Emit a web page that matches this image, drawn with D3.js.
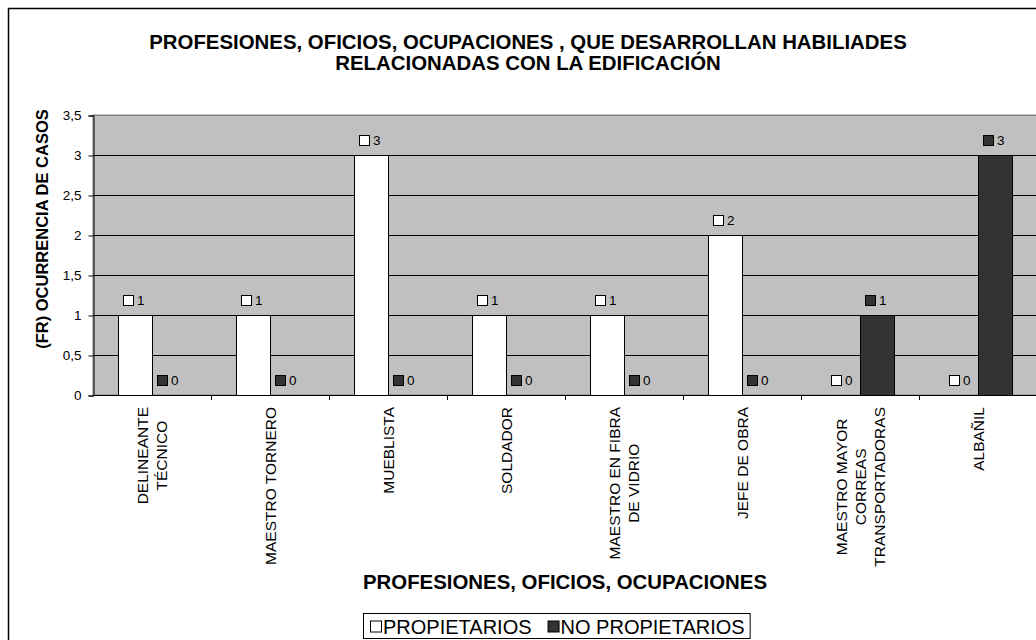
<!DOCTYPE html>
<html>
<head>
<meta charset="utf-8">
<script src="https://cdn.jsdelivr.net/npm/d3@7"></script>
<style>
  html, body { margin: 0; padding: 0; background: #ffffff; }
  svg { display: block; font-family: Arial, "Liberation Sans", sans-serif; }
</style>
</head>
<body>
<svg id="chart" width="1036" height="640"></svg>
<script>
const titleLines = ["PROFESIONES, OFICIOS, OCUPACIONES , QUE DESARROLLAN HABILIADES", "RELACIONADAS CON LA EDIFICACIÓN"];
const xTitle = "PROFESIONES, OFICIOS, OCUPACIONES";
const yTitle = "(FR) OCURRENCIA DE CASOS";
const categories = [
  ["DELINEANTE", "TÉCNICO"],
  ["MAESTRO TORNERO"],
  ["MUEBLISTA"],
  ["SOLDADOR"],
  ["MAESTRO EN FIBRA", "DE VIDRIO"],
  ["JEFE DE OBRA"],
  ["MAESTRO MAYOR", "CORREAS", "TRANSPORTADORAS"],
  ["ALBAÑIL"]
];
const seriesNames = ["PROPIETARIOS", "NO PROPIETARIOS"];
const propietarios = [1, 1, 3, 1, 1, 2, 0, 0];
const noPropietarios = [0, 0, 0, 0, 0, 0, 1, 3];
const seriesColors = ["#ffffff", "#333333"];
const yTicks = [0, 0.5, 1, 1.5, 2, 2.5, 3, 3.5];

const svg = d3.select("#chart");
const plot = { left: 93, right: 1037, top: 115, bottom: 395 };
const catKeys = categories.map((c, i) => i);
const seriesData = [propietarios, noPropietarios];

// outer frame
svg.append("rect").attr("x", 8.5).attr("y", 8.5).attr("width", 1040).attr("height", 640)
  .attr("fill", "#ffffff").attr("stroke", "#000").attr("stroke-width", 1.5);

const x0 = d3.scaleBand().domain(catKeys).range([plot.left, plot.right]).padding(0);
const x1 = d3.scaleBand().domain([0, 1]).range([0, x0.bandwidth()]).paddingInner(0).paddingOuter(0.735);
const y = d3.scaleLinear().domain([0, 3.5]).range([plot.bottom, plot.top]);

// plot background
svg.append("rect").attr("x", plot.left).attr("y", plot.top)
  .attr("width", plot.right - plot.left).attr("height", plot.bottom - plot.top)
  .attr("fill", "#c0c0c0").attr("stroke", "#808080").attr("stroke-width", 1);

// gridlines
svg.append("g").selectAll("line").data(yTicks.filter(d => d > 0)).join("line")
  .attr("x1", plot.left).attr("x2", plot.right)
  .attr("y1", d => Math.round(y(d)) + 0.5).attr("y2", d => Math.round(y(d)) + 0.5)
  .attr("stroke", d => d === 3.5 ? "#808080" : "#000").attr("stroke-width", 1);

// bars
const groups = svg.append("g").selectAll("g").data(catKeys).join("g")
  .attr("transform", i => `translate(${x0(i)},0)`);
groups.selectAll("rect").data(i => seriesData.map((s, k) => ({ k, v: s[i] }))).join("rect")
  .attr("x", d => x1(d.k) + 0.5).attr("width", x1.bandwidth())
  .attr("y", d => y(d.v) + 0.5).attr("height", d => y(0) - y(d.v))
  .attr("fill", d => seriesColors[d.k]).attr("stroke", "#000").attr("stroke-width", 1)
  .attr("display", d => d.v > 0 ? null : "none");

// data labels
const lab = groups.selectAll("g.lab").data(i => seriesData.map((s, k) => ({ k, v: s[i] }))).join("g")
  .attr("class", "lab")
  .attr("transform", d => `translate(${x1(d.k) + x1.bandwidth() / 2},${y(d.v) - 15})`);
lab.append("rect").attr("x", -11.5).attr("y", -4.5).attr("width", 10).attr("height", 10)
  .attr("fill", d => seriesColors[d.k]).attr("stroke", "#000").attr("stroke-width", 1);
lab.append("text").attr("x", 2).attr("y", 5).attr("font-size", 13.5).attr("fill", "#000")
  .text(d => d.v);

// y axis
const yAxis = d3.axisLeft(y).tickValues(yTicks).tickSize(5).tickPadding(7)
  .tickFormat(d => String(d).replace(".", ","));
const yg = svg.append("g").attr("transform", `translate(${plot.left + 0.5},0.5)`).call(yAxis);
yg.select(".domain").attr("stroke", "#000");
yg.selectAll(".tick line").attr("stroke", "#000");
yg.selectAll(".tick text").attr("font-size", 13.5).attr("font-family", "Arial, 'Liberation Sans', sans-serif").attr("fill", "#000");

// x axis baseline and ticks at category boundaries
svg.append("line").attr("x1", plot.left).attr("x2", plot.right)
  .attr("y1", plot.bottom + 0.5).attr("y2", plot.bottom + 0.5).attr("stroke", "#000");
svg.append("g").selectAll("line").data(catKeys.slice(1)).join("line")
  .attr("x1", i => x0(i) + 0.5).attr("x2", i => x0(i) + 0.5)
  .attr("y1", plot.bottom).attr("y2", plot.bottom + 5).attr("stroke", "#000");

// category labels
const lineH = 19;
const catG = svg.append("g").selectAll("g").data(catKeys).join("g")
  .attr("transform", i => `translate(${x0(i) + x0.bandwidth() / 2},407) rotate(-90)`);
catG.each(function (i) {
  const g = d3.select(this);
  const lines = categories[i];
  const tmp = lines.map(t => g.append("text").attr("font-size", 15.5).text(t));
  const maxW = d3.max(tmp, t => t.node().getComputedTextLength());
  tmp.forEach((t, j) => {
    t.attr("x", -maxW / 2).attr("y", (j - (lines.length - 1) / 2) * lineH)
      .attr("dy", "0.36em").attr("text-anchor", "middle").attr("fill", "#000");
  });
});

// titles
const cx = (plot.left + plot.right) / 2;
svg.append("g").selectAll("text").data(titleLines).join("text")
  .attr("x", cx - 37).attr("y", (d, i) => 49 + i * 21)
  .attr("text-anchor", "middle").attr("font-size", 20.4).attr("font-weight", "bold").text(d => d);
svg.append("text").attr("x", cx).attr("y", 589).attr("text-anchor", "middle")
  .attr("font-size", 20.4).attr("font-weight", "bold").text(xTitle);
svg.append("text").attr("transform", `translate(48,229) rotate(-90)`)
  .attr("text-anchor", "middle").attr("font-size", 16.5).attr("font-weight", "bold").text(yTitle);

// legend
const leg = svg.append("g");
const legBox = leg.append("rect").attr("fill", "#fff").attr("stroke", "#000").attr("stroke-width", 1);
let lx = 370;
const ly = 626.5;
seriesNames.forEach((name, k) => {
  leg.append("rect").attr("x", lx + 0.5).attr("y", ly - 5.5).attr("width", 11).attr("height", 11)
    .attr("fill", seriesColors[k]).attr("stroke", "#000");
  const t = leg.append("text").attr("x", lx + 13).attr("y", ly).attr("dy", "0.36em")
    .attr("font-size", 20).text(name);
  lx += 13 + t.node().getComputedTextLength() + 16;
});
legBox.attr("x", 363.5).attr("y", 613.5).attr("width", lx - 16 - 363 + 5).attr("height", 25);
</script>
</body>
</html>
